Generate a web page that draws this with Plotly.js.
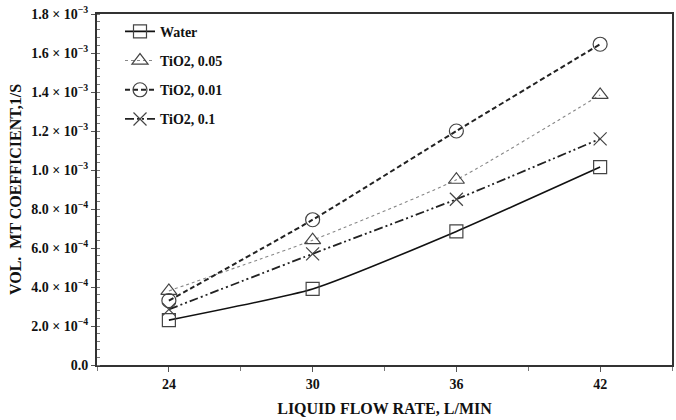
<!DOCTYPE html>
<html>
<head>
<meta charset="utf-8">
<script src="https://cdn.plot.ly/plotly-3.0.1.min.js"></script>
<style>html,body{margin:0;padding:0;background:#fff;}#chart{width:676px;height:420px;}</style>
</head>
<body>
<div id="chart"></div>
<script>
const flowRates = [24, 30, 36, 42];
const water = [2.3e-4, 3.9e-4, 6.85e-4, 1.015e-3];
const tio2_005 = [3.8e-4, 6.4e-4, 9.5e-4, 1.385e-3];
const tio2_001 = [3.3e-4, 7.45e-4, 1.2e-3, 1.645e-3];
const tio2_01 = [2.85e-4, 5.7e-4, 8.5e-4, 1.16e-3];
const seriesNames = ["Water", "TiO2, 0.05", "TiO2, 0.01", "TiO2, 0.1"];
const yTickVals = [0, 2e-4, 4e-4, 6e-4, 8e-4, 1e-3, 1.2e-3, 1.4e-3, 1.6e-3, 1.8e-3];
const yTickText = ["0.0", "2.0 × 10<sup>−4</sup>", "4.0 × 10<sup>−4</sup>", "6.0 × 10<sup>−4</sup>", "8.0 × 10<sup>−4</sup>",
  "1.0 × 10<sup>−3</sup>", "1.2 × 10<sup>−3</sup>", "1.4 × 10<sup>−3</sup>", "1.6 × 10<sup>−3</sup>", "1.8 × 10<sup>−3</sup>"];
const xTickVals = [24, 30, 36, 42];

const font = "Liberation Serif, Times New Roman, serif";
const mk = (sym, size) => ({symbol: sym, size: size, color: "#444", line: {color: "#444", width: 1.2}});

const traces = [
  {x: flowRates, y: water, name: seriesNames[0], legendgroup: "a", mode: "lines+markers",
   line: {color: "#111", width: 1.6, shape: "spline", smoothing: 0.5}, marker: mk("square-open", 13)},
  {x: flowRates, y: tio2_005, name: seriesNames[1], legendgroup: "b", mode: "lines+markers",
   line: {color: "#888", width: 1.1, dash: "dot", shape: "spline", smoothing: 0.5}, marker: mk("triangle-up-open", 14)},
  {x: flowRates, y: tio2_001, name: seriesNames[2], legendgroup: "c", mode: "lines+markers",
   line: {color: "#222", width: 2, dash: "5px,3px", shape: "spline", smoothing: 0.5}, marker: mk("circle-open", 14)},
  {x: flowRates, y: tio2_01, name: seriesNames[3], legendgroup: "d", mode: "lines+markers",
   line: {color: "#222", width: 1.8, dash: "9px,3px,2px,3px,2px,3px", shape: "spline", smoothing: 0.5}, marker: mk("x-thin-open", 13)}
];

const layout = {
  width: 676, height: 420,
  margin: {l: 97, r: 4, t: 14, b: 55},
  paper_bgcolor: "#fff", plot_bgcolor: "#fff",
  font: {family: font, color: "#111", size: 12},
  showlegend: true,
  legend: {x: 0.04, y: 0.995, xanchor: "left", yanchor: "top", bgcolor: "rgba(0,0,0,0)",
    font: {family: font, size: 14, color: "#111", weight: "bold"}, tracegroupgap: 8, itemwidth: 30},
  xaxis: {
    range: [21, 45], tickvals: xTickVals, ticktext: xTickVals.map(String),
    ticks: "outside", ticklen: 5, tickwidth: 1, tickcolor: "#555",
    minor: {dtick: 3, tick0: 0, ticks: "outside", ticklen: 4, tickcolor: "#777"},
    showline: true, linecolor: "#333", linewidth: 2, mirror: true, showgrid: false, zeroline: false,
    tickfont: {family: font, size: 14, color: "#111", weight: "bold"},
    title: {text: "LIQUID FLOW RATE, L/MIN", font: {family: font, size: 16, color: "#111", weight: "bold"}, standoff: 12}
  },
  yaxis: {
    range: [0, 1.8e-3], tickvals: yTickVals, ticktext: yTickText,
    ticks: "outside", ticklen: 4, tickwidth: 1, tickcolor: "#555",
    minor: {dtick: 4e-5, tick0: 0, ticks: "inside", ticklen: 3, tickcolor: "#777"},
    showline: true, linecolor: "#333", linewidth: 2, mirror: true, showgrid: false, zeroline: false,
    tickfont: {family: font, size: 14, color: "#111", weight: "bold"},
    title: {text: "VOL.  MT COEFFICIENT,1/S", font: {family: font, size: 16, color: "#111", weight: "bold"}, standoff: 6}
  }
};

Plotly.newPlot("chart", traces, layout, {staticPlot: true, displayModeBar: false});
</script>
</body>
</html>
